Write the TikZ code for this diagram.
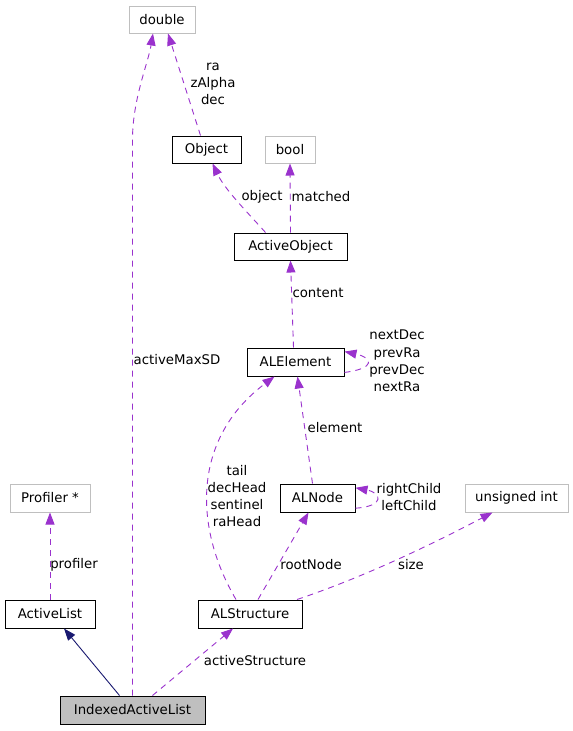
\documentclass[tikz,border=0pt]{standalone}
\usepackage{fontspec}
\setmainfont{DejaVu Sans}
\usetikzlibrary{arrows.meta}

\definecolor{usecol}{HTML}{9A32CD}
\definecolor{inhcol}{HTML}{191970}
\definecolor{boxgray}{HTML}{BFBFBF}

\tikzset{
    box/.style={rectangle, inner sep=0pt, minimum height=28pt, line width=1pt},
    cls/.style={box, draw=black},
    prim/.style={box, draw=boxgray},
    cur/.style={box, draw=black, fill=boxgray},
    usage/.style={usecol, line width=0.9pt, dash pattern=on 6pt off 5pt, -{Triangle[length=12pt,width=9pt]}},
    inherit/.style={inhcol, line width=0.9pt, -{Triangle[length=12pt,width=9pt]}},
    lbl/.style={inner sep=0pt, align=center, font=\fontsize{13.3}{17.3}\selectfont}
}

\begin{document}
\begin{tikzpicture}[x=1pt, y=-1pt, font=\fontsize{13.3}{17.3}\selectfont]
                    \useasboundingbox (0,0) rectangle (573,731);

                    \node[prim, minimum width=66pt, minimum height=27pt] (dbl) at (162,19.5) {double};
                    \node[cls, minimum width=69pt, minimum height=27pt] (obj) at (206.5,149.5) {Object};
                    \node[prim, minimum width=50pt, minimum height=27pt] (bool) at (290,149.5) {bool};
                    \node[cls, minimum width=113pt, minimum height=27pt] (aob) at (290.5,246.5) {ActiveObject};
                    \node[cls, minimum width=97pt] (ale) at (295.5,362) {ALElement};
                    \node[cls, minimum width=75pt] (aln) at (317.5,498) {ALNode};
                    \node[prim, minimum width=80pt] (prof) at (50,498) {Profiler *};
                    \node[prim, minimum width=103pt] (uint) at (516.5,498) {unsigned int};
                    \node[cls, minimum width=90pt] (al) at (50,614) {ActiveList};
                    \node[cls, minimum width=104pt] (als) at (250,614) {ALStructure};
                    \node[cur, minimum width=145pt] (ial) at (132.5,710) {IndexedActiveList};

                    \draw[usage] (ial.north) -- ++(0,-556) .. controls +(0,-40) and +(-5,30) .. ([xshift=-9pt]dbl.south);
                    \draw[usage] ([xshift=-6pt]obj.north) -- ([xshift=6pt]dbl.south);
                    \draw[usage] ([xshift=-25pt]aob.north) .. controls (250,215) and (225,190) .. ([xshift=6pt]obj.south);
                    \draw[usage] (aob.north) -- (bool.south);
                    \draw[usage] ([xshift=-2pt]ale.north) -- (aob.south);
                    \draw[usage] (ale.-12) .. controls +(32,-4) and +(28,6) .. (ale.12);
                    \draw[usage] ([xshift=-5pt]aln.north) -- ([xshift=2pt]ale.south);
                    \draw[usage] (aln.-15) .. controls +(30,-2) and +(26,5) .. (aln.15);
                    \draw[usage] ([xshift=-14pt]als.north) .. controls (195,530) and (190,440) .. ([xshift=-21pt]ale.south);
                    \draw[usage] ([xshift=8pt]als.north) -- ([xshift=-9pt]aln.south);
                    \draw[usage] ([xshift=47pt]als.north) .. controls (370,575) and (440,540) .. ([xshift=-24pt]uint.south);
                    \draw[usage] (al.north) -- (prof.south);
                    \draw[usage] ([xshift=20pt]ial.north) -- ([xshift=-17pt]als.south);
                    \draw[inherit] ([xshift=-13pt]ial.north) -- ([xshift=14pt]al.south);

                    \node[lbl] (lrzd) at (213,84) {ra\\zAlpha\\dec};
                    \node[lbl] (lmaxsd) at (177,360) {activeMaxSD};
                    \node[lbl] (lobject) at (262,197) {object};
                    \node[lbl] (lmatched) at (321,197) {matched};
                    \node[lbl] (lcontent) at (318,293) {content};
                    \node[lbl] (llinks) at (397,361) {nextDec\\prevRa\\prevDec\\nextRa};
                    \node[lbl] (lelement) at (335,428) {element};
                    \node[lbl] (lheads) at (237,496) {tail\\decHead\\sentinel\\raHead};
                    \node[lbl] (lchild) at (409,497) {rightChild\\leftChild};
                    \node[lbl] (lprofiler) at (74,565) {profiler};
                    \node[lbl] (lroot) at (311,565) {rootNode};
                    \node[lbl] (lsize) at (411,565) {size};
                    \node[lbl] (lactive) at (255,661) {activeStructure};
\end{tikzpicture}
\end{document}
